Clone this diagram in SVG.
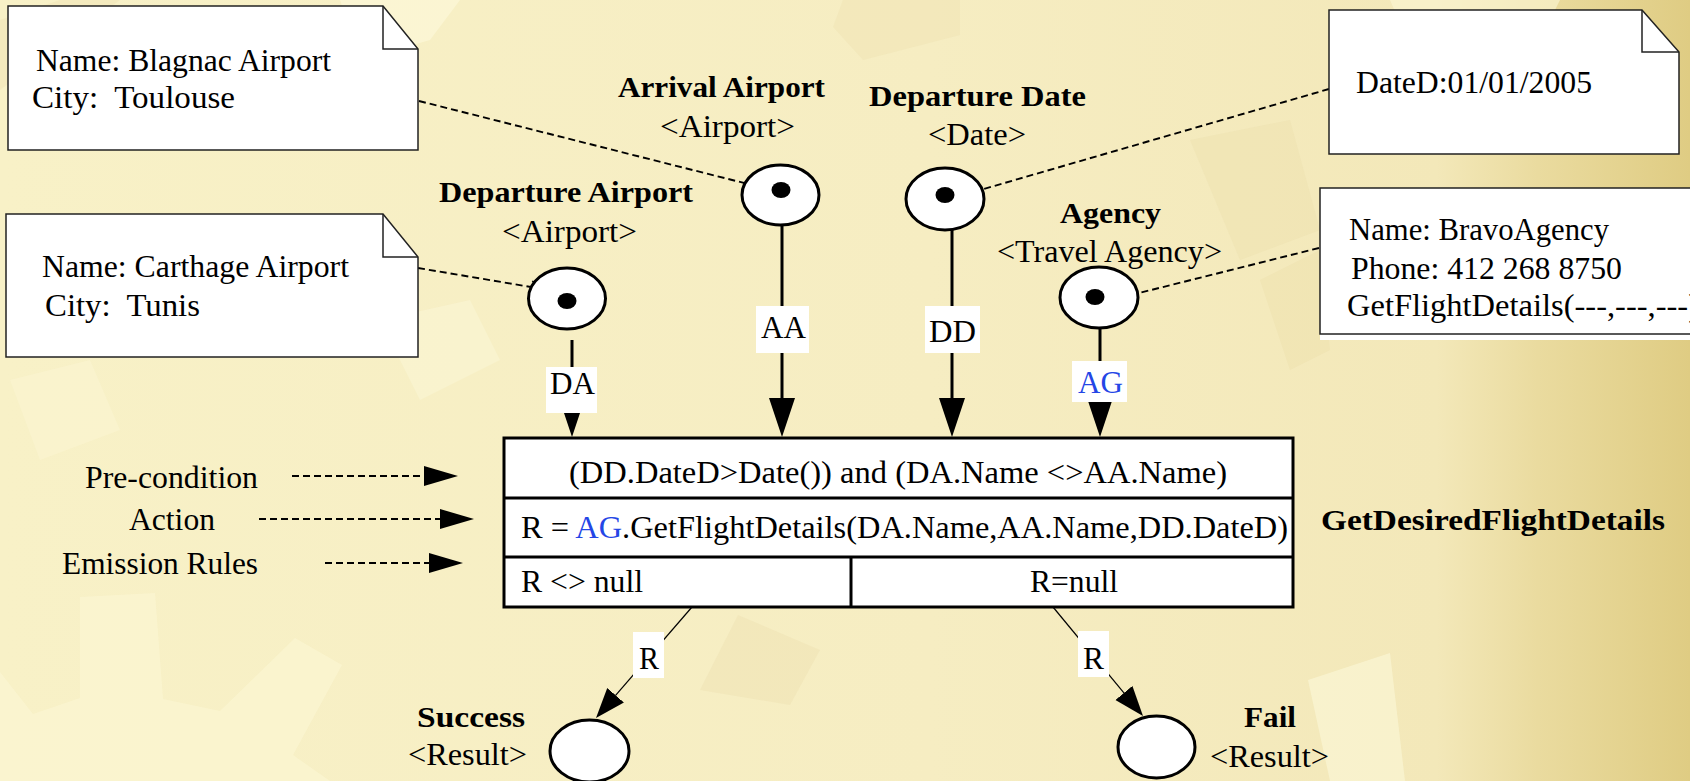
<svg xmlns="http://www.w3.org/2000/svg" width="1690" height="781" viewBox="0 0 1690 781">
  <defs>
    <linearGradient id="bgGrad" x1="0" y1="0" x2="1690" y2="0" gradientUnits="userSpaceOnUse">
      <stop offset="0" stop-color="#F8F1C7"/>
      <stop offset="0.55" stop-color="#F6EDC2"/>
      <stop offset="0.85" stop-color="#F3E8B9"/>
      <stop offset="0.91" stop-color="#EADB9F"/>
      <stop offset="1" stop-color="#DFCC83"/>
    </linearGradient>
    <marker id="headIn" markerUnits="userSpaceOnUse" markerWidth="40" markerHeight="28" refX="0" refY="13" orient="auto">
      <path d="M0,0 L39,13 L0,26 Z" fill="#000"/>
    </marker>
    <marker id="headOut" markerUnits="userSpaceOnUse" markerWidth="32" markerHeight="24" refX="0" refY="11" orient="auto">
      <path d="M0,0 L30,11 L0,22 Z" fill="#000"/>
    </marker>
    <marker id="headSide" markerUnits="userSpaceOnUse" markerWidth="36" markerHeight="22" refX="0" refY="10" orient="auto">
      <path d="M0,0 L34,10 L0,20 Z" fill="#000"/>
    </marker>
    <marker id="headOpen" markerUnits="userSpaceOnUse" markerWidth="16" markerHeight="16" refX="13" refY="7" orient="auto">
      <path d="M1,1 L13,7 L1,13" fill="none" stroke="#000" stroke-width="1.3"/>
    </marker>
  </defs>
  <style>
    text { font-family: "Liberation Serif", "Times New Roman", serif; fill: #000; }
    .t { font-size: 31px; }
    .b { font-size: 29px; font-weight: bold; }
    .blue { fill: #2446E6; }
    .note { fill: #fff; stroke: #222; stroke-width: 1.5; }
    .fold { fill: none; stroke: #222; stroke-width: 1.5; }
    .place { fill: #fff; stroke: #000; stroke-width: 3; }
    .tok { fill: #000; }
    .box { fill: #fff; stroke: #000; stroke-width: 3; }
    .arc { stroke: #000; stroke-width: 3; fill: none; }
    .arcThin { stroke: #000; stroke-width: 1.2; fill: none; }
    .link { stroke: #000; stroke-width: 1.9; stroke-dasharray: 7 4; fill: none; }
    .lbl { fill: #fff; }
  </style>

  <!-- background texture -->
  <g id="background">
    <rect x="0" y="0" width="1690" height="781" fill="url(#bgGrad)"/>
    <polygon points="80,597 155,593 163,699 220,711 295,638 342,665 293,755 330,781 0,781 0,672 33,714 80,698" fill="#FCF7D4" opacity="0.6"/>
    <polygon points="0,20 60,0 120,0 40,60 0,90" fill="#EFE4B6" opacity="0.5"/>
    <polygon points="340,0 460,0 430,40 360,60" fill="#FCF8D8" opacity="0.7"/>
    <polygon points="833,27 863,60 960,35 960,0 843,0" fill="#EFE3B4" opacity="0.5"/>
    <polygon points="380,320 470,300 500,360 420,400" fill="#FCF8D8" opacity="0.5"/>
    <polygon points="1190,140 1290,120 1320,230 1240,260" fill="#EEE1B0" opacity="0.5"/>
    <polygon points="1260,280 1320,250 1330,350 1290,370" fill="#EEE1AE" opacity="0.5"/>
    <polygon points="1390,0 1560,0 1530,60 1420,70" fill="#FBF6D5" opacity="0.6"/>
    <polygon points="1308,680 1390,653 1405,781 1330,781" fill="#FCF8D8" opacity="0.6"/>
    <polygon points="738,615 820,650 790,705 700,690" fill="#EDE1B2" opacity="0.45"/>
    <polygon points="10,380 90,360 120,430 40,460" fill="#FCF8D6" opacity="0.4"/>
  </g>

  <!-- connectors -->
  <g id="connectors">
    <!-- input arcs into the transition -->
    <line class="arc" x1="572" y1="340" x2="572" y2="398" marker-end="url(#headIn)"/>
    <line class="arc" x1="782" y1="225" x2="782" y2="398" marker-end="url(#headIn)"/>
    <line class="arc" x1="952" y1="230" x2="952" y2="398" marker-end="url(#headIn)"/>
    <line class="arc" x1="1100" y1="328" x2="1100" y2="398" marker-end="url(#headIn)"/>
    <!-- output arcs -->
    <line class="arcThin" x1="692" y1="607" x2="615.6" y2="695.3" marker-end="url(#headOut)"/>
    <line class="arcThin" x1="1053" y1="607" x2="1123.9" y2="692.9" marker-end="url(#headOut)"/>
    <!-- note attachments -->
    <line class="link" x1="419" y1="101" x2="760" y2="187" marker-end="url(#headOpen)"/>
    <line class="link" x1="418" y1="268" x2="543" y2="289" marker-end="url(#headOpen)"/>
    <line class="link" x1="1329" y1="89" x2="970" y2="193" marker-end="url(#headOpen)"/>
    <line class="link" x1="1319" y1="248" x2="1119" y2="298" marker-end="url(#headOpen)"/>
    <!-- part pointers -->
    <line class="link" x1="292" y1="476" x2="424" y2="476" marker-end="url(#headSide)"/>
    <line class="link" x1="259" y1="519" x2="440" y2="519" marker-end="url(#headSide)"/>
    <line class="link" x1="325" y1="563" x2="429" y2="563" marker-end="url(#headSide)"/>
    <!-- arc inscriptions -->
    <rect class="lbl" x="756" y="306" width="53" height="47"/>
    <text class="t" x="761" y="338" textLength="45" lengthAdjust="spacingAndGlyphs">AA</text>
    <rect class="lbl" x="546" y="367" width="51" height="46"/>
    <text class="t" x="550" y="394" textLength="45" lengthAdjust="spacingAndGlyphs">DA</text>
    <rect class="lbl" x="925" y="306" width="55" height="47"/>
    <text class="t" x="929" y="342" textLength="47" lengthAdjust="spacingAndGlyphs">DD</text>
    <rect class="lbl" x="1072" y="361" width="55" height="41"/>
    <text class="t blue" x="1078" y="393" textLength="45" lengthAdjust="spacingAndGlyphs">AG</text>
    <rect class="lbl" x="633" y="632" width="31" height="46"/>
    <text class="t" x="639" y="669" textLength="20" lengthAdjust="spacingAndGlyphs">R</text>
    <rect class="lbl" x="1078" y="631" width="31" height="46"/>
    <text class="t" x="1083" y="669" textLength="21" lengthAdjust="spacingAndGlyphs">R</text>
  </g>

  <!-- object notes -->
  <g id="note-blagnac">
    <path class="note" d="M8,6 H383 L418,49 V150 H8 Z"/>
    <path class="fold" d="M383,6 V49 H418"/>
    <text class="t" x="36" y="71" textLength="295" lengthAdjust="spacingAndGlyphs">Name: Blagnac Airport</text>
    <text class="t" x="32" y="108" xml:space="preserve" textLength="203" lengthAdjust="spacingAndGlyphs">City:  Toulouse</text>
  </g>
  <g id="note-carthage">
    <path class="note" d="M6,214 H383 L418,257 V357 H6 Z"/>
    <path class="fold" d="M383,214 V257 H418"/>
    <text class="t" x="42" y="277" textLength="307" lengthAdjust="spacingAndGlyphs">Name: Carthage Airport</text>
    <text class="t" x="45" y="316" xml:space="preserve" textLength="155" lengthAdjust="spacingAndGlyphs">City:  Tunis</text>
  </g>
  <g id="note-date">
    <path class="note" d="M1329,10 H1642 L1679,52 V154 H1329 Z"/>
    <path class="fold" d="M1642,10 V52 H1679"/>
    <text class="t" x="1356" y="93" textLength="236" lengthAdjust="spacingAndGlyphs">DateD:01/01/2005</text>
  </g>
  <g id="note-agency">
    <rect x="1320" y="334" width="375" height="6" fill="#fff"/>
    <rect class="note" x="1320" y="188" width="380" height="146"/>
    <text class="t" x="1349" y="240" textLength="260" lengthAdjust="spacingAndGlyphs">Name: BravoAgency</text>
    <text class="t" x="1351" y="279" textLength="271" lengthAdjust="spacingAndGlyphs">Phone: 412 268 8750</text>
    <text class="t" x="1347" y="316" textLength="352" lengthAdjust="spacingAndGlyphs">GetFlightDetails(---,---,---)</text>
  </g>

  <!-- places -->
  <g id="place-departure-airport">
    <text class="b" x="439" y="202" textLength="254" lengthAdjust="spacingAndGlyphs">Departure Airport</text>
    <text class="t" x="502" y="242" textLength="135" lengthAdjust="spacingAndGlyphs">&lt;Airport&gt;</text>
    <ellipse class="place" cx="567" cy="298.5" rx="38.5" ry="30.5"/>
    <ellipse class="tok" cx="567" cy="301" rx="9.5" ry="8"/>
  </g>
  <g id="place-arrival-airport">
    <text class="b" x="618" y="97" textLength="207" lengthAdjust="spacingAndGlyphs">Arrival Airport</text>
    <text class="t" x="660" y="137" textLength="135" lengthAdjust="spacingAndGlyphs">&lt;Airport&gt;</text>
    <ellipse class="place" cx="780.5" cy="195" rx="38.5" ry="30"/>
    <ellipse class="tok" cx="781" cy="190" rx="9.5" ry="8"/>
  </g>
  <g id="place-departure-date">
    <text class="b" x="869" y="106" textLength="217" lengthAdjust="spacingAndGlyphs">Departure Date</text>
    <text class="t" x="928" y="145" textLength="98" lengthAdjust="spacingAndGlyphs">&lt;Date&gt;</text>
    <ellipse class="place" cx="945" cy="199" rx="39" ry="31"/>
    <ellipse class="tok" cx="945" cy="195" rx="9.5" ry="8"/>
  </g>
  <g id="place-agency">
    <text class="b" x="1060" y="223" textLength="101" lengthAdjust="spacingAndGlyphs">Agency</text>
    <text class="t" x="997" y="262" textLength="225" lengthAdjust="spacingAndGlyphs">&lt;Travel Agency&gt;</text>
    <ellipse class="place" cx="1099" cy="297.5" rx="39" ry="30.5"/>
    <ellipse class="tok" cx="1095" cy="297" rx="9.5" ry="8"/>
  </g>
  <g id="place-success">
    <text class="b" x="417" y="727" textLength="108" lengthAdjust="spacingAndGlyphs">Success</text>
    <text class="t" x="408" y="765" textLength="119" lengthAdjust="spacingAndGlyphs">&lt;Result&gt;</text>
    <ellipse class="place" cx="589.5" cy="751" rx="39.5" ry="31"/>
  </g>
  <g id="place-fail">
    <text class="b" x="1244" y="727" textLength="52" lengthAdjust="spacingAndGlyphs">Fail</text>
    <text class="t" x="1210" y="767" textLength="119" lengthAdjust="spacingAndGlyphs">&lt;Result&gt;</text>
    <ellipse class="place" cx="1156.5" cy="747" rx="38.5" ry="31"/>
  </g>

  <!-- transition -->
  <g id="transition-get-desired-flight-details">
    <rect class="box" x="504" y="438" width="789" height="169"/>
    <line class="arc" x1="504" y1="498" x2="1293" y2="498"/>
    <line class="arc" x1="504" y1="557" x2="1293" y2="557"/>
    <line class="arc" x1="851" y1="557" x2="851" y2="607"/>
    <text class="t" x="569" y="483" textLength="658" lengthAdjust="spacingAndGlyphs">(DD.DateD&gt;Date()) and (DA.Name &lt;&gt;AA.Name)</text>
    <text class="t" x="521" y="538" textLength="767" lengthAdjust="spacingAndGlyphs">R = <tspan class="blue">AG</tspan>.GetFlightDetails(DA.Name,AA.Name,DD.DateD)</text>
    <text class="t" x="521" y="592" textLength="122" lengthAdjust="spacingAndGlyphs">R &lt;&gt; null</text>
    <text class="t" x="1030" y="592" textLength="88" lengthAdjust="spacingAndGlyphs">R=null</text>
    <text class="b" x="1321" y="530" textLength="344" lengthAdjust="spacingAndGlyphs">GetDesiredFlightDetails</text>
  </g>

  <!-- part captions -->
  <g id="legend">
    <text class="t" x="85" y="488" textLength="173" lengthAdjust="spacingAndGlyphs">Pre-condition</text>
    <text class="t" x="129" y="530" textLength="86" lengthAdjust="spacingAndGlyphs">Action</text>
    <text class="t" x="62" y="574" textLength="196" lengthAdjust="spacingAndGlyphs">Emission Rules</text>
  </g>
</svg>
